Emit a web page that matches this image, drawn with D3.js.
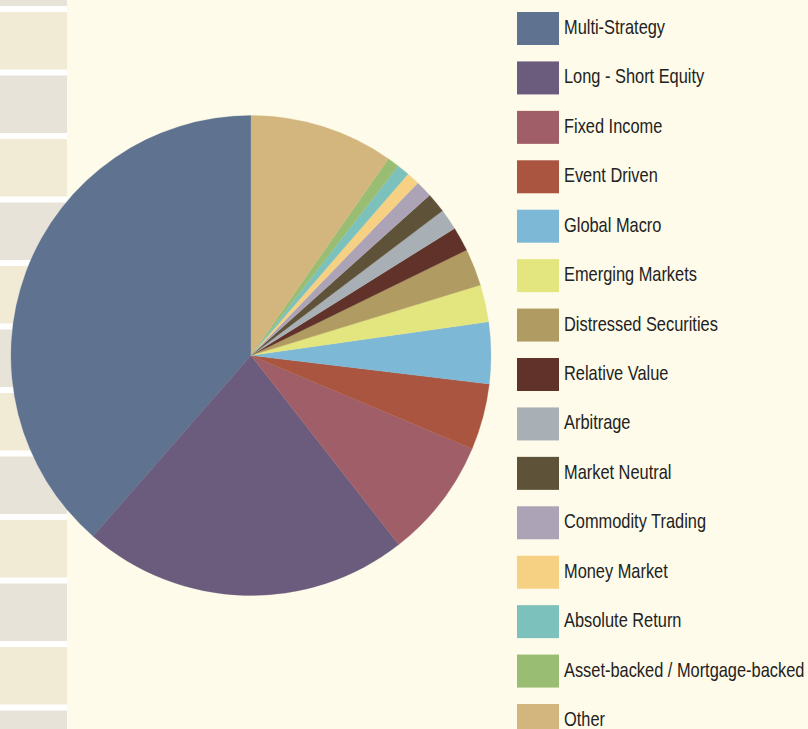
<!DOCTYPE html>
<html>
<head>
<meta charset="utf-8">
<script src="https://cdn.jsdelivr.net/npm/d3@7"></script>
<style>
  html, body { margin: 0; padding: 0; background: #fefbea; }
  svg { display: block; }
</style>
</head>
<body>
<svg id="chart" width="808" height="729"></svg>
<script>
// Hedge fund strategy allocation (% of assets)
const categories = [
  "Multi-Strategy", "Long - Short Equity", "Fixed Income", "Event Driven",
  "Global Macro", "Emerging Markets", "Distressed Securities", "Relative Value",
  "Arbitrage", "Market Neutral", "Commodity Trading", "Money Market",
  "Absolute Return", "Asset-backed / Mortgage-backed", "Other"
];
const shares = [38.6, 22.0, 8.1, 4.45, 4.15, 2.5, 2.5, 1.64, 1.42, 1.34, 1.13, 0.88, 0.85, 0.81, 9.7];
const palette = [
  "#5f7391", "#6b5b7d", "#a05f68", "#a95540", "#7db8d6", "#e3e57e", "#b09c62",
  "#60322a", "#a8b0b5", "#5e5238", "#ada3b6", "#f6d083", "#7cc1bc", "#99bd72", "#d3b67e"
];

const svg = d3.select("#chart");
const W = 808, H = 729;

svg.append("rect").attr("width", W).attr("height", H).attr("fill", "#fefbea");

// Decorative banded strip on the left edge
const stripBands = d3.range(-1, 12);
const bandY = d => 12 + d * 63.5;
svg.append("rect").attr("x", 0).attr("y", 0).attr("width", 67).attr("height", H).attr("fill", "#ffffff");
svg.append("g").selectAll("rect").data(stripBands).join("rect")
  .attr("x", 0)
  .attr("y", d => bandY(d))
  .attr("width", 67)
  .attr("height", 57.5)
  .attr("fill", d => (d % 2 === 0) ? "#f1ebd6" : "#e7e3d8");

// Pie, laid out counter-clockwise from 12 o'clock
const color = d3.scaleOrdinal().domain(categories).range(palette);
const pie = d3.pie().sort(null).value(d => d.value).startAngle(0).endAngle(-2 * Math.PI);
const arc = d3.arc().innerRadius(0).outerRadius(240);
const data = categories.map((c, i) => ({ name: c, value: shares[i] }));

svg.append("g")
  .attr("transform", "translate(251,355.5)")
  .selectAll("path").data(pie(data)).join("path")
  .attr("d", arc)
  .attr("fill", d => color(d.data.name))
  .attr("stroke", d => color(d.data.name))
  .attr("stroke-width", 0.3);

// Legend (labels set in a horizontally condensed sans)
const squeeze = 0.82;
const rowY = d3.scalePoint().domain(categories).range([12, 704]);
const legend = svg.append("g").selectAll("g").data(categories).join("g")
  .attr("transform", d => `translate(517,${rowY(d)})`);
legend.append("rect")
  .attr("width", 42).attr("height", 33)
  .attr("fill", d => color(d));
legend.append("text")
  .attr("transform", `translate(47,22) scale(${squeeze},1)`)
  .attr("fill", "#222222")
  .style("font-family", "'Liberation Sans', Arial, sans-serif")
  .style("font-size", "20px")
  .text(d => d);
</script>
</body>
</html>
